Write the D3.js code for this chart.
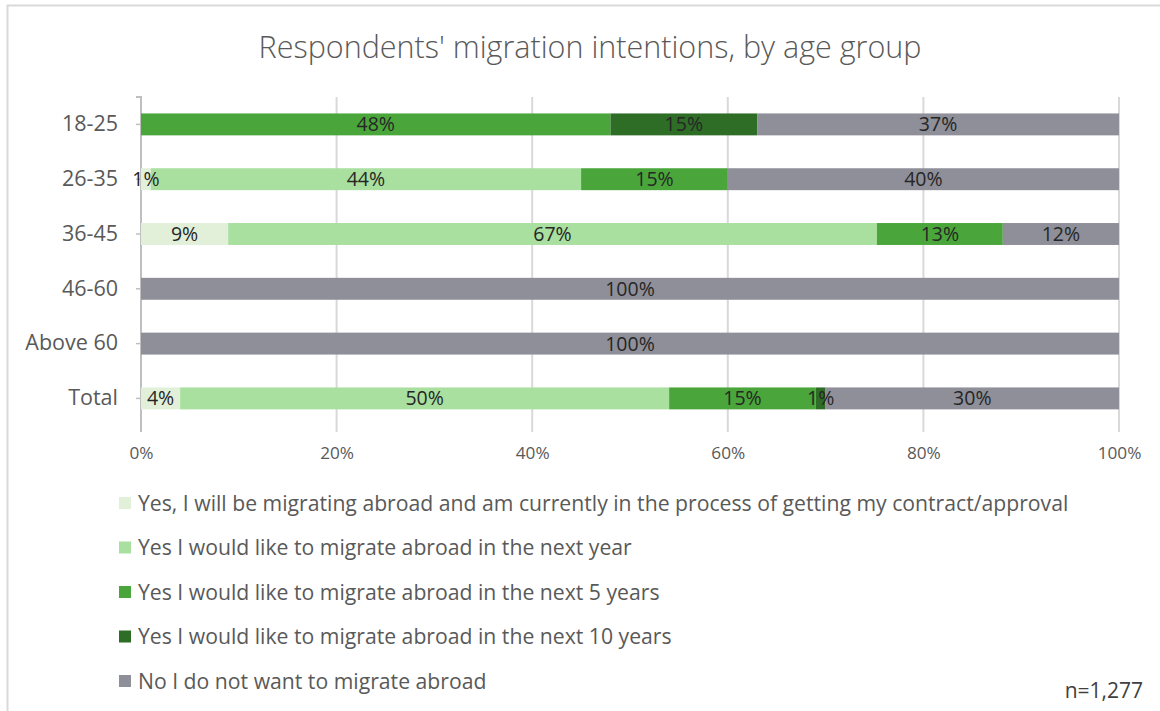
<!DOCTYPE html>
<html>
<head>
<meta charset="utf-8">
<script src="https://cdn.jsdelivr.net/npm/d3@7"></script>
<style>
  html, body { margin: 0; padding: 0; background: #fff; }
  svg { display: block; font-family: "Open Sans", Lato, sans-serif; }
</style>
</head>
<body>
<svg id="chart" width="1160" height="711"></svg>
<script>
// Age groups (top to bottom) and answer categories
const ageGroups = ["18-25", "26-35", "36-45", "46-60", "Above 60", "Total"];
const answers = [
  "Yes, I will be migrating abroad and am currently in the process of getting my contract/approval",
  "Yes I would like to migrate abroad in the next year",
  "Yes I would like to migrate abroad in the next 5 years",
  "Yes I would like to migrate abroad in the next 10 years",
  "No I do not want to migrate abroad"
];
// Share of respondents (%) per answer, one array per answer, ordered as ageGroups
const inProcess   = [0, 1, 9, 0, 0, 4];
const nextYear    = [0, 44, 67, 0, 0, 50];
const next5Years  = [48, 15, 13, 0, 0, 15];
const next10Years = [15, 0, 0, 0, 0, 1];
const noMigration = [37, 40, 12, 100, 100, 30];
const xTicks = [0, 20, 40, 60, 80, 100];
const colors = ["#e2f0d9", "#a9df9f", "#4aa63a", "#2e6d26", "#8e8f99"];
const sampleNote = "n=1,277";

const seriesValues = [inProcess, nextYear, next5Years, next10Years, noMigration];
const rows = ageGroups.map((g, i) => {
  const r = { group: g };
  answers.forEach((a, k) => { r[a] = seriesValues[k][i]; });
  return r;
});

const svg = d3.select("#chart");
const margin = { left: 141, right: 41, top: 97, plotBottom: 425.8 };

// chart frame
svg.append("rect")
  .attr("x", 7.5).attr("y", 5.5)
  .attr("width", 1170).attr("height", 720)
  .attr("fill", "none").attr("stroke", "#d9d9d9").attr("stroke-width", 2);

// title
svg.append("text")
  .attr("x", 590).attr("y", 58)
  .attr("text-anchor", "middle")
  .attr("font-size", 30.5)
  .attr("font-weight", 300)
  .attr("fill", "#595959")
  .text("Respondents' migration intentions, by age group");

const x = d3.scaleLinear().domain([0, 1]).range([margin.left, 1160 - margin.right]);
const y = d3.scaleBand().domain(ageGroups).range([margin.top, margin.plotBottom]).paddingInner(0.6).paddingOuter(0.3);

// vertical gridlines
svg.append("g")
  .selectAll("line")
  .data(xTicks)
  .join("line")
  .attr("x1", d => x(d / 100)).attr("x2", d => x(d / 100))
  .attr("y1", margin.top).attr("y2", 432)
  .attr("stroke", "#d9d9d9").attr("stroke-width", 2);

// x tick labels
const xAxis = d3.axisBottom(x)
  .tickValues(xTicks.map(d => d / 100))
  .tickFormat(d => Math.round(d * 100) + "%")
  .tickSize(0).tickPadding(0);
const gx = svg.append("g").attr("transform", "translate(0,459)").call(xAxis);
gx.select(".domain").remove();
gx.selectAll("text")
  .attr("dy", 0)
  .attr("font-size", 17.2)
  .attr("font-family", "'Open Sans', sans-serif")
  .attr("fill", "#595959");

// y axis with category ticks
const yAxis = d3.axisLeft(y).tickSize(5).tickPadding(18);
const gy = svg.append("g").attr("transform", `translate(${margin.left},0)`).call(yAxis);
gy.select(".domain").attr("stroke", "#bfbfbf").attr("stroke-width", 2)
  .attr("d", `M-5,${margin.top}H0V432`);
gy.selectAll(".tick line").attr("stroke", "#bfbfbf").attr("stroke-width", 1.5);
gy.selectAll(".tick text")
  .attr("font-size", 21.5)
  .attr("font-family", "'Open Sans', sans-serif")
  .attr("fill", "#595959");

// stacked bars (normalised to 100%)
const stack = d3.stack().keys(answers).offset(d3.stackOffsetExpand);
const layers = stack(rows);

const layerG = svg.append("g")
  .selectAll("g")
  .data(layers)
  .join("g")
  .attr("fill", (d, i) => colors[i]);

layerG.selectAll("rect")
  .data(d => d.filter(s => s.data[d.key] > 0))
  .join("rect")
  .attr("x", d => x(d[0]))
  .attr("width", d => x(d[1]) - x(d[0]))
  .attr("y", d => y(d.data.group))
  .attr("height", y.bandwidth());

// value labels
const labelG = svg.append("g");
layers.forEach(layer => {
  layer.filter(s => s.data[layer.key] > 0).forEach(s => {
    labelG.append("text")
      .attr("x", (x(s[0]) + x(s[1])) / 2)
      .attr("y", y(s.data.group) + y.bandwidth() / 2)
      .attr("dy", "0.36em")
      .attr("text-anchor", "middle")
      .attr("font-size", 19.5)
      .attr("fill", "#262626")
      .text(s.data[layer.key] + "%");
  });
});

// legend
const legend = svg.append("g");
const legendRow = d3.scalePoint().domain(answers).range([503, 681]);
answers.forEach((a, i) => {
  const cy = legendRow(a);
  legend.append("rect")
    .attr("x", 119).attr("y", cy - 6)
    .attr("width", 12).attr("height", 12)
    .attr("fill", colors[i]);
  legend.append("text")
    .attr("x", 138).attr("y", cy)
    .attr("dy", "0.36em")
    .attr("font-size", 21.2)
    .attr("fill", "#595959")
    .text(a);
});

// sample size
svg.append("text")
  .attr("x", 1143).attr("y", 690)
  .attr("dy", "0.36em")
  .attr("text-anchor", "end")
  .attr("font-size", 21)
  .attr("fill", "#404040")
  .text(sampleNote);
</script>
</body>
</html>
